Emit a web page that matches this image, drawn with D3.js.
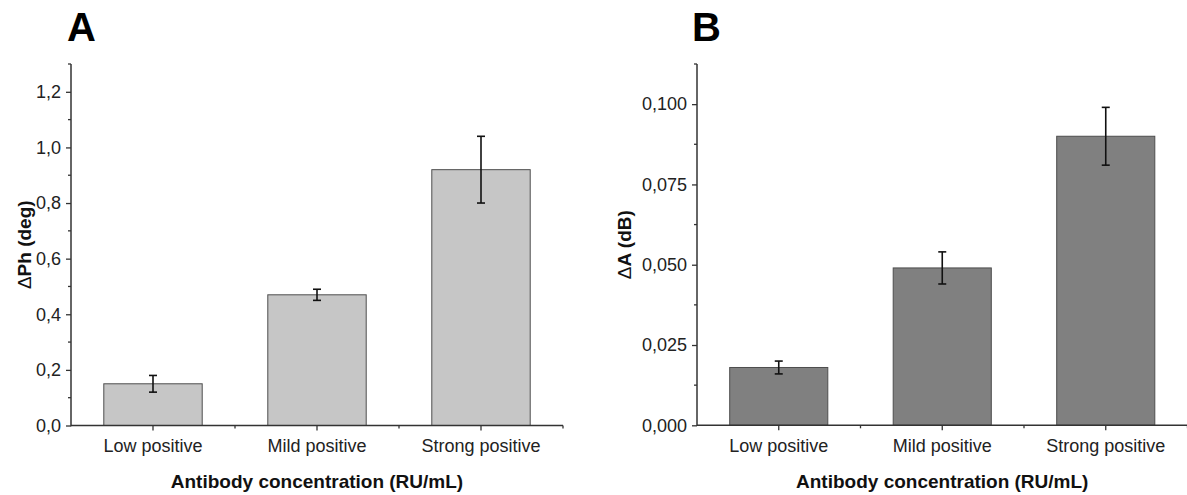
<!DOCTYPE html>
<html>
<head>
<meta charset="utf-8">
<script src="https://cdn.jsdelivr.net/npm/d3@7"></script>
<style>
  html, body { margin: 0; padding: 0; background: #fff; }
  svg { display: block; font-family: "Liberation Sans", Arial, sans-serif; }
</style>
</head>
<body>
<svg id="chart" width="1187" height="495"></svg>
<script>
// ---- data ----
const categories = ["Low positive", "Mild positive", "Strong positive"];
const phaseValues = [0.15, 0.47, 0.92];
const phaseErrors = [0.03, 0.02, 0.12];
const ampValues = [0.018, 0.049, 0.090];
const ampErrors = [0.002, 0.005, 0.009];
const phaseTicks = [0, 0.2, 0.4, 0.6, 0.8, 1.0, 1.2];
const ampTicks = [0, 0.025, 0.05, 0.075, 0.1];
const xTitle = "Antibody concentration (RU/mL)";

const locale = d3.formatLocale({ decimal: ",", thousands: ".", grouping: [3], currency: ["", ""] });
const svg = d3.select("#chart");

function panel(opts) {
  const g = svg.append("g");
  const x = d3.scaleBand().domain(categories).range([opts.x0, opts.x1])
    .paddingInner(0.4).paddingOuter(0.2);
  const y = d3.scaleLinear().domain([0, opts.yMax]).range([opts.yBase, opts.yTop]);
  const step = x.step();
  const bw = x.bandwidth();

  // bars
  g.selectAll("rect.bar").data(opts.values).join("rect")
    .attr("x", (d, i) => x(categories[i]))
    .attr("y", d => y(d))
    .attr("width", bw)
    .attr("height", d => y(0) - y(d))
    .attr("fill", opts.fill)
    .attr("stroke", "#4d4d4d")
    .attr("stroke-width", 1);

  // error bars
  const eb = g.append("g").attr("stroke", "#111").attr("stroke-width", 1.6);
  opts.values.forEach((v, i) => {
    const cx = x(categories[i]) + bw / 2;
    const e = opts.errors[i];
    eb.append("line").attr("x1", cx).attr("x2", cx).attr("y1", y(v + e)).attr("y2", y(v - e));
    eb.append("line").attr("x1", cx - 4).attr("x2", cx + 4).attr("y1", y(v + e)).attr("y2", y(v + e));
    eb.append("line").attr("x1", cx - 4).attr("x2", cx + 4).attr("y1", y(v - e)).attr("y2", y(v - e));
  });

  // y axis
  const fmt = locale.format(opts.fmt);
  const yAxis = d3.axisLeft(y).tickValues(opts.ticks).tickFormat(fmt).tickSize(5).tickPadding(5);
  const ya = g.append("g").attr("transform", `translate(${opts.x0},0)`).call(yAxis);
  ya.select(".domain").remove();
  ya.selectAll(".tick line").attr("stroke", "#333").attr("stroke-width", 1.3);
  ya.selectAll(".tick text").attr("fill", "#222").style("font-size", "18px")
    .style("font-family", "'Liberation Sans', Arial, sans-serif");
  // minor y ticks
  const minorY = d3.range(0, opts.ticks.length).map(i => opts.ticks[0] + (i + 0.5) * (opts.ticks[1] - opts.ticks[0]))
    .filter(v => v <= opts.yMax + 1e-9);
  g.selectAll("line.minorY").data(minorY).join("line")
    .attr("x1", opts.x0 - 3).attr("x2", opts.x0)
    .attr("y1", d => y(d)).attr("y2", d => y(d))
    .attr("stroke", "#333").attr("stroke-width", 1.3);
  g.append("line").attr("x1", opts.x0).attr("x2", opts.x0)
    .attr("y1", y(opts.yMax)).attr("y2", y(0) + 0.7)
    .attr("stroke", "#333").attr("stroke-width", 1.5);

  // x axis
  const xAxis = d3.axisBottom(x).tickSize(5).tickPadding(9);
  const xa = g.append("g").attr("transform", `translate(0,${opts.yBase})`).call(xAxis);
  xa.select(".domain").remove();
  xa.selectAll(".tick line").attr("stroke", "#333").attr("stroke-width", 1.3);
  xa.selectAll(".tick text").attr("fill", "#222").style("font-size", "18px")
    .style("font-family", "'Liberation Sans', Arial, sans-serif");
  const bounds = categories.map(c => x(c) + bw / 2 + step / 2);
  g.selectAll("line.minorX").data(bounds).join("line")
    .attr("x1", d => d).attr("x2", d => d)
    .attr("y1", opts.yBase).attr("y2", opts.yBase + 3)
    .attr("stroke", "#333").attr("stroke-width", 1.3);
  g.append("line").attr("x1", opts.x0).attr("x2", opts.x1)
    .attr("y1", opts.yBase).attr("y2", opts.yBase)
    .attr("stroke", "#333").attr("stroke-width", 1.5);

  // x title
  g.append("text").attr("x", (opts.x0 + opts.x1) / 2).attr("y", 488)
    .attr("text-anchor", "middle").style("font-size", "19px").style("font-weight", "bold")
    .attr("fill", "#111").text(xTitle);

  // y title
  const yt = g.append("text")
    .attr("transform", `translate(${opts.yTitleX},${(opts.yBase + opts.yTop) / 2}) rotate(-90)`)
    .attr("text-anchor", "middle").style("font-size", "19px").attr("fill", "#111");
  yt.append("tspan").style("font-weight", "normal").text("\u0394");
  yt.append("tspan").style("font-weight", "bold").text(opts.yTitle);

  // panel letter
  g.append("text").attr("x", opts.letterX).attr("y", 41)
    .style("font-size", "40px").style("font-weight", "bold").attr("fill", "#000")
    .text(opts.letter);
}

panel({
  x0: 71, x1: 563, yBase: 425.5, yTop: 64, yMax: 1.3,
  values: phaseValues, errors: phaseErrors, ticks: phaseTicks, fmt: ".1f",
  fill: "#c6c6c6", yTitle: "Ph (deg)", yTitleX: 31, letter: "A", letterX: 67
});
panel({
  x0: 697, x1: 1187.5, yBase: 425.3, yTop: 64, yMax: 0.1125,
  values: ampValues, errors: ampErrors, ticks: ampTicks, fmt: ".3f",
  fill: "#808080", yTitle: "A (dB)", yTitleX: 631, letter: "B", letterX: 692
});
</script>
</body>
</html>
